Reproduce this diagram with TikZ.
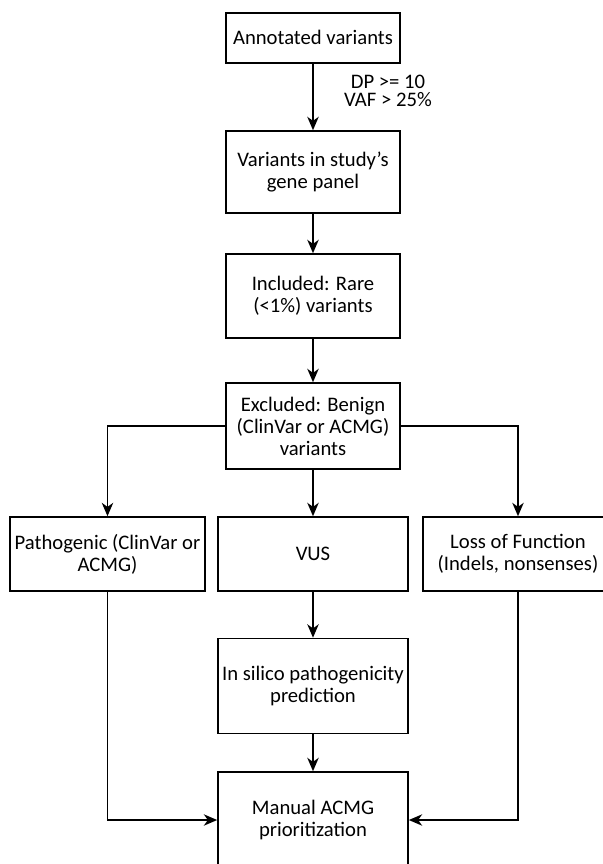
\documentclass[tikz,border=0pt]{standalone}
\usepackage{fontspec}
\setmainfont{Carlito}
\usepackage{tikz}
\usetikzlibrary{arrows.meta,positioning}
\tikzset{>={Stealth[length=10pt,width=8.5pt,inset=3pt]}}
\tikzset{box/.style={draw,line width=1.2pt,minimum width=130.5pt,align=center,font=\fontsize{15.5}{16.5}\selectfont}}
\tikzset{wbox/.style={box,minimum width=142.5pt}}

\begin{document}
\begin{tikzpicture}[x=0.75pt,y=-0.75pt]
    \useasboundingbox (0,0) rectangle (603,864);
    \clip (0,0) rectangle (603,864);
    \node [box,minimum height=37.5pt] (annot) at (313,37.7) {Annotated variants};
    \node [box,minimum height=61.5pt] (panel) at (313,172) {Variants in study’s\\gene panel};
    \node [box,minimum height=63pt] (rare) at (313,296) {Included: Rare\\(<1\%) variants};
    \node [box,minimum height=64.5pt] (benign) at (313,426) {Excluded: Benign\\(ClinVar or ACMG)\\variants};
    \node [wbox,minimum height=55.5pt] (patho) at (107.5,554) {Pathogenic (ClinVar or\\ACMG)};
    \node [wbox,minimum height=55.5pt] (vus) at (313,554) {VUS};
    \node [wbox,minimum height=55.5pt] (lof) at (518,554) {Loss of Function\\(Indels, nonsenses)};
    \node [wbox,minimum height=71.25pt] (silico) at (313,686) {In silico pathogenicity\\prediction};
    \node [wbox,minimum height=72pt] (manual) at (313,820) {Manual ACMG\\prioritization};
    \node [align=center,font=\fontsize{15.5}{14}\selectfont] (filt) at (388,91) {DP >= 10\\VAF > 25\%};
    \draw [line width=1.4pt,->] (annot) -- (panel);
    \draw [line width=1.4pt,->] (panel) -- (rare);
    \draw [line width=1.4pt,->] (rare) -- (benign);
    \draw [line width=1.4pt,->] (benign) -- (vus);
    \draw [line width=1.2pt,->] (benign.west) -| (patho.north);
    \draw [line width=1.2pt,->] (benign.east) -| (lof.north);
    \draw [line width=1.4pt,->] (vus) -- (silico);
    \draw [line width=1.4pt,->] (silico) -- (manual);
    \draw [line width=1.2pt,->] (patho.south) |- (manual.west);
    \draw [line width=1.2pt,->] (lof.south) |- (manual.east);
\end{tikzpicture}
\end{document}
